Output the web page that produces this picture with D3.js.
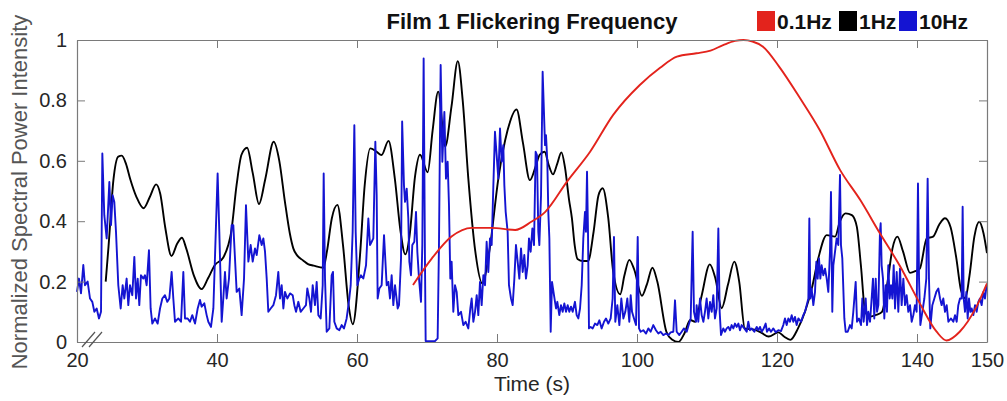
<!DOCTYPE html>
<html><head><meta charset="utf-8">
<script src="https://cdn.jsdelivr.net/npm/d3@7"></script>
<style>body{margin:0;background:#fff} svg{display:block}</style>
</head><body><svg id="chart" width="1007" height="401"></svg>
<script>
const titleText = "Film 1 Flickering Frequency";
const xLabel = "Time (s)";
const yLabel = "Normalized Spectral Power Intensity";
const xTicks = [20, 40, 60, 80, 100, 120, 140, 150];
const yTicks = [0, 0.2, 0.4, 0.6, 0.8, 1];
const yTickLabels = ["0", "0.2", "0.4", "0.6", "0.8", "1"];
const legendLabels = ["0.1Hz", "1Hz", "10Hz"];
const seriesColors = ["#e3231c", "#000000", "#1414d2"];

// 0.1 Hz component [time, value]
const hz01 = [[68.0,0.189],[70.7,0.277],[73.5,0.349],[76.4,0.378],[79.2,0.378],[82.6,0.371],[84.9,0.398],[86.9,0.431],[90.0,0.531],[93.3,0.63],[96.6,0.752],[100.4,0.851],[103.3,0.908],[105.7,0.945],[108.5,0.956],[110.5,0.965],[112.3,0.983],[114.0,0.997],[115.2,1.0],[116.5,0.995],[118.0,0.978],[120.3,0.912],[123.3,0.807],[126.1,0.702],[129.0,0.57],[131.9,0.47],[134.7,0.36],[137.6,0.25],[140.4,0.128],[142.8,0.034],[144.2,0.005],[146.1,0.034],[148.5,0.117],[150.0,0.194]];

// 1 Hz component
const hz1 = [[24.1,0.2],[24.5,0.315],[25.2,0.536],[25.9,0.614],[26.4,0.617],[27.0,0.59],[27.6,0.54],[28.5,0.48],[29.5,0.443],[30.4,0.48],[31.3,0.522],[31.9,0.49],[32.6,0.38],[33.5,0.285],[34.3,0.325],[35.0,0.345],[35.6,0.31],[36.7,0.22],[37.8,0.175],[38.7,0.21],[39.7,0.255],[40.9,0.28],[41.6,0.32],[42.0,0.36],[42.8,0.52],[43.5,0.62],[44.3,0.643],[45.1,0.56],[46.0,0.457],[46.9,0.54],[48.1,0.663],[48.9,0.6],[49.7,0.465],[50.4,0.36],[50.9,0.31],[51.5,0.285],[52.3,0.27],[53.0,0.258],[53.8,0.253],[55.2,0.246],[55.7,0.299],[56.4,0.409],[57.2,0.454],[58.0,0.321],[58.8,0.122],[59.4,0.059],[60.4,0.277],[61.1,0.519],[61.9,0.641],[62.8,0.63],[63.5,0.619],[64.5,0.666],[65.4,0.542],[66.2,0.37],[66.9,0.29],[67.5,0.35],[68.3,0.55],[69.0,0.62],[70.1,0.562],[70.8,0.70],[71.6,0.829],[72.6,0.647],[73.5,0.78],[74.4,0.93],[75.1,0.8],[75.9,0.542],[76.9,0.30],[77.9,0.194],[78.9,0.3],[80.2,0.542],[81.5,0.70],[82.8,0.77],[83.7,0.66],[84.7,0.536],[85.5,0.58],[86.1,0.62],[86.8,0.63],[87.4,0.585],[88.0,0.555],[88.6,0.59],[89.2,0.628],[89.7,0.58],[90.3,0.47],[90.7,0.41],[91.1,0.32],[91.5,0.275],[92.3,0.268],[93.0,0.268],[93.8,0.365],[94.5,0.486],[95.1,0.509],[95.9,0.409],[96.6,0.233],[97.6,0.158],[98.2,0.22],[98.9,0.272],[99.6,0.24],[100.7,0.153],[101.4,0.19],[102.2,0.246],[102.9,0.2],[104.2,0.034],[105.0,0.008],[105.9,0.0],[106.8,0.03],[107.6,0.073],[108.3,0.067],[109.2,0.15],[110.4,0.257],[111.2,0.21],[112.1,0.112],[113.0,0.19],[113.9,0.266],[114.6,0.2],[115.4,0.045],[116.9,0.04],[117.8,0.03],[118.8,0.018],[120.2,0.032],[121.0,0.018],[121.9,0.007],[123.0,0.045],[124.0,0.1],[125.0,0.18],[125.9,0.277],[127.1,0.354],[128.3,0.349],[129.0,0.4],[129.8,0.426],[130.7,0.42],[131.4,0.382],[132.0,0.25],[132.6,0.1],[133.3,0.084],[134.2,0.09],[135.0,0.1],[135.8,0.2],[136.5,0.31],[137.2,0.349],[138.0,0.3],[139.0,0.229],[139.8,0.235],[140.4,0.243],[141.4,0.343],[142.3,0.349],[143.2,0.39],[144.0,0.41],[144.8,0.38],[145.6,0.28],[146.3,0.17],[146.9,0.145],[147.5,0.22],[148.2,0.35],[148.9,0.398],[149.5,0.36],[150.0,0.294]];

// 10 Hz component
const hz10 = [[20.0,0.166],[20.28,0.21],[20.57,0.161],[20.9,0.255],[21.14,0.188],[21.52,0.2],[21.86,0.144],[22.19,0.133],[22.48,0.10],[22.81,0.111],[23.14,0.078],[23.43,0.10],[23.62,0.624],[23.9,0.42],[24.24,0.343],[24.62,0.53],[24.86,0.387],[25.09,0.486],[25.33,0.464],[25.57,0.365],[25.9,0.188],[26.24,0.111],[26.52,0.188],[26.76,0.144],[27.09,0.21],[27.33,0.122],[27.57,0.188],[27.9,0.155],[28.19,0.282],[28.43,0.144],[28.67,0.21],[28.9,0.122],[29.14,0.221],[29.48,0.21],[29.71,0.221],[29.95,0.188],[30.28,0.304],[30.52,0.111],[30.76,0.061],[31.14,0.078],[31.52,0.061],[31.86,0.111],[32.19,0.144],[32.57,0.155],[32.9,0.133],[33.19,0.144],[33.52,0.232],[33.76,0.144],[34.0,0.067],[34.47,0.078],[34.86,0.067],[35.19,0.232],[35.43,0.078],[35.81,0.078],[36.14,0.067],[36.47,0.089],[36.86,0.061],[37.24,0.111],[37.57,0.139],[37.81,0.117],[38.19,0.128],[38.52,0.089],[38.76,0.067],[39.14,0.05],[39.48,0.111],[40.09,0.558],[40.33,0.365],[40.67,0.067],[40.9,0.144],[41.14,0.232],[41.38,0.144],[41.71,0.21],[42.09,0.387],
[42.33,0.387],[42.81,0.166],[43.19,0.177],[43.52,0.089],[43.86,0.21],[44.14,0.453],[44.48,0.266],[44.81,0.321],[45.1,0.266],[45.43,0.31],[45.67,0.288],[46.05,0.354],[46.38,0.321],[46.62,0.343],[46.86,0.299],[47.1,0.21],[47.33,0.1],[47.67,0.111],[48.05,0.122],[48.43,0.155],[48.76,0.232],[49.0,0.144],[49.24,0.188],[49.48,0.111],[49.71,0.166],[50.05,0.144],[50.43,0.161],[50.81,0.155],[51.05,0.122],[51.29,0.1],[51.62,0.133],[51.95,0.1],[52.33,0.111],[52.71,0.122],[52.9,0.177],[53.19,0.144],[53.43,0.1],[53.67,0.188],[54.0,0.122],[54.24,0.199],[54.48,0.089],[54.81,0.078],[55.1,0.188],[55.24,0.558],[55.43,0.21],[55.67,0.034],[56.05,0.045],[56.38,0.221],[56.57,0.232],[56.76,0.067],[57.1,0.045],[57.48,0.039],[57.81,0.056],[58.14,0.045],[58.52,0.078],[58.9,0.144],[59.1,0.188],[59.38,0.365],[59.62,0.718],[59.81,0.365],[60.05,0.188],[60.33,0.21],[60.57,0.221],[60.9,0.21],[61.29,0.254],[61.62,0.409],[61.86,0.321],[62.1,0.332],[62.33,0.343],[62.62,0.663],[62.81,0.486],[62.95,0.144],[63.19,0.177],[63.52,0.188],[63.86,0.354],
[64.24,0.188],[64.48,0.199],[64.71,0.144],[64.95,0.221],[65.19,0.122],[65.43,0.188],[65.81,0.111],[66.0,0.122],[66.29,0.277],[66.45,0.73],[66.71,0.519],[66.86,0.464],[67.1,0.508],[67.33,0.409],[67.48,0.266],[67.71,0.221],[67.9,0.321],[68.19,0.332],[68.43,0.431],[68.62,0.299],[68.86,0.21],[69.14,0.133],[69.33,0.321],[69.52,0.939],[69.71,0.266],[69.81,0.003],[70.19,0.003],[70.67,0.003],[71.14,0.003],[71.52,0.012],[71.71,0.321],[71.95,0.917],[72.19,0.597],[72.48,0.762],[72.71,0.541],[72.95,0.597],[73.14,0.453],[73.33,0.21],[73.52,0.266],[73.76,0.1],[74.0,0.188],[74.24,0.166],[74.48,0.089],[74.86,0.1],[75.19,0.056],[75.52,0.067],[75.9,0.045],[76.19,0.111],[76.38,0.144],[76.62,0.067],[76.86,0.1],[77.1,0.155],[77.33,0.089],[77.57,0.199],[77.81,0.122],[78.05,0.221],[78.29,0.188],[78.52,0.332],[78.76,0.232],[79.0,0.343],[79.24,0.321],[79.48,0.519],[79.71,0.696],[79.95,0.619],[80.19,0.541],[80.43,0.707],[80.67,0.597],[80.9,0.652],[81.05,0.519],[81.24,0.431],[81.52,0.365],[81.71,0.188],[82.0,0.144],[82.24,0.122],[82.48,0.21],[82.71,0.321],[82.95,0.266],[83.19,0.21],[83.43,0.31],[83.67,0.232],[83.9,0.288],[84.14,0.21],[84.38,0.254],[84.57,0.343],[84.81,0.299],[85.05,0.376],[85.29,0.321],[85.52,0.63],[85.71,0.619],[85.9,0.365],[86.05,0.321],[86.29,0.486],[86.52,0.895],
[86.86,0.652],[87.0,0.685],[87.19,0.597],[87.33,0.431],[87.48,0.343],[87.67,0.034],[87.86,0.199],[88.14,0.155],[88.43,0.111],[88.62,0.133],[88.9,0.089],[89.14,0.122],[89.38,0.1],[89.62,0.128],[89.86,0.1],[90.1,0.122],[90.33,0.1],[90.57,0.117],[90.81,0.1],[91.14,0.133],[91.38,0.089],[91.62,0.078],[91.86,0.111],[92.1,0.188],[92.33,0.343],[92.57,0.431],[92.71,0.365],[92.86,0.564],[93.0,0.365],[93.14,0.045],[93.38,0.05],[93.67,0.045],[94.0,0.061],[94.33,0.056],[94.62,0.072],[94.95,0.045],[95.29,0.067],[95.57,0.078],[95.9,0.061],[96.24,0.078],[96.52,0.144],[96.71,0.348],[96.9,0.067],[97.19,0.122],[97.48,0.056],[97.76,0.144],[98.05,0.078],[98.33,0.1],[98.62,0.144],[98.9,0.067],[99.1,0.155],[99.29,0.1],[99.57,0.078],[99.86,0.056],[100.1,0.348],[100.29,0.045],[100.52,0.034],[100.9,0.039],[101.29,0.028],[101.62,0.045],[101.95,0.034],[102.33,0.056],[102.71,0.039],[103.05,0.028],[103.38,0.034],[103.76,0.023],[104.14,0.028],[104.48,0.023],[104.81,0.032],[105.19,0.034],[105.43,0.138],[105.67,0.034],[106.05,0.023],[106.38,0.034],[106.71,0.045],[107.1,0.034],[107.38,0.056],[107.67,0.078],[107.95,0.365],[108.14,0.1],[108.43,0.067],
[108.52,0.122],[108.76,0.067],[109.0,0.144],[109.24,0.089],[109.48,0.067],[109.71,0.1],[109.95,0.144],[110.19,0.078],[110.43,0.133],[110.67,0.1],[110.9,0.155],[111.14,0.078],[111.38,0.111],[111.62,0.376],[111.81,0.1],[112.0,0.023],[112.33,0.045],[112.57,0.034],[112.81,0.045],[113.05,0.05],[113.29,0.039],[113.52,0.056],[113.76,0.045],[114.0,0.061],[114.24,0.05],[114.48,0.061],[114.71,0.039],[114.95,0.056],[115.33,0.045],[115.67,0.034],[115.9,0.067],[116.14,0.039],[116.38,0.045],[116.76,0.034],[117.1,0.05],[117.33,0.039],[117.57,0.05],[117.81,0.034],[118.1,0.045],[118.38,0.061],[118.57,0.034],[118.86,0.045],[119.14,0.034],[119.48,0.045],[119.81,0.032],[120.19,0.039],[120.57,0.036],[120.9,0.056],[121.14,0.078],[121.38,0.056],[121.62,0.078],[121.86,0.067],[122.1,0.089],[122.33,0.067],[122.57,0.083],[122.81,0.056],[123.05,0.078],[123.43,0.067],[123.76,0.089],[124.0,0.1],[124.24,0.122],[124.48,0.144],[124.62,0.409],[124.76,0.144],[124.95,0.177],[125.19,0.122],[125.43,0.166],[125.62,0.266],[125.81,0.21],[126.0,0.277],[126.19,0.21],[126.38,0.254],[126.62,0.221],[126.86,0.243],[127.1,0.21],[127.33,0.166],[127.57,0.299],[127.71,0.497],[127.9,0.1],[128.05,0.254],[128.29,0.299],[128.52,0.343],[128.76,0.321],[129.0,0.553],[129.14,0.321],[129.33,0.277],[129.62,0.078],[129.81,0.034],[130.1,0.034],[130.43,0.056],[130.67,0.045],
[130.9,0.1],[131.24,0.199],[131.43,0.067],[131.71,0.078],[132.0,0.056],[132.19,0.144],[132.38,0.067],[132.67,0.144],[132.86,0.056],[133.05,0.1],[133.29,0.067],[133.52,0.144],[133.71,0.21],[133.9,0.078],[134.1,0.21],[134.29,0.1],[134.48,0.122],[134.71,0.365],[134.81,0.393],[134.95,0.254],[135.14,0.21],[135.33,0.078],[135.52,0.188],[135.71,0.1],[135.9,0.254],[136.1,0.144],[136.29,0.188],[136.48,0.144],[136.67,0.254],[136.86,0.111],[137.1,0.232],[137.33,0.1],[137.57,0.243],[137.81,0.122],[138.05,0.21],[138.29,0.122],[138.52,0.155],[138.76,0.1],[139.0,0.122],[139.24,0.067],[139.48,0.089],[139.71,0.122],[139.95,0.1],[140.14,0.525],[140.29,0.21],[140.48,0.056],[140.76,0.1],[141.05,0.144],[141.33,0.21],[141.52,0.541],[141.71,0.21],[141.9,0.045],[142.19,0.122],[142.48,0.144],[142.76,0.166],[143.05,0.177],[143.29,0.144],[143.52,0.122],[143.76,0.144],[144.0,0.1],[144.24,0.122],[144.48,0.067],[144.86,0.078],[145.19,0.067],[145.43,0.089],[145.67,0.067],[145.9,0.122],[146.14,0.144],[146.38,0.144],[146.52,0.448],[146.67,0.144],[146.86,0.1],[147.05,0.166],[147.24,0.078],[147.43,0.144],[147.62,0.1],[147.81,0.111],[148.05,0.089],[148.29,0.122],[148.52,0.1],[148.76,0.133],[149.0,0.144],[149.24,0.122],[149.48,0.166],[149.71,0.144],[149.95,0.188]];

const svg = d3.select("#chart");
const x = d3.scaleLinear().domain([20, 150]).range([77, 987]);
const y = d3.scaleLinear().domain([0, 1]).range([342, 40]);
const frameColor = "#7a7a7a";
const font = "'Liberation Sans', Arial, Helvetica, sans-serif";

// lines
const smooth = d3.line().x(d => x(d[0])).y(d => y(d[1])).curve(d3.curveMonotoneX);
const linear = d3.line().x(d => x(d[0])).y(d => y(d[1]));

svg.append("path").datum(hz1).attr("d", smooth).attr("fill", "none")
  .attr("stroke", seriesColors[1]).attr("stroke-width", 1.9).attr("stroke-linejoin", "round");
svg.append("path").datum(hz10).attr("d", linear).attr("fill", "none")
  .attr("stroke", seriesColors[2]).attr("stroke-width", 1.9).attr("stroke-linejoin", "round");
svg.append("path").datum(hz01).attr("d", smooth).attr("fill", "none")
  .attr("stroke", seriesColors[0]).attr("stroke-width", 1.9);

// axes (inward ticks, box)
function styleAxis(g) {
  g.selectAll("path.domain").attr("stroke", frameColor).attr("stroke-width", 1.2);
  g.selectAll(".tick line").attr("stroke", frameColor);
  g.selectAll(".tick text").attr("fill", "#262626").style("font-family", font).style("font-size", "20px");
}
svg.append("g").attr("transform", `translate(0,${y(0)})`)
  .call(d3.axisBottom(x).tickValues(xTicks).tickSize(-8).tickSizeOuter(0).tickPadding(11))
  .call(styleAxis);
svg.append("g").attr("transform", `translate(0,${y(1)})`)
  .call(d3.axisTop(x).tickValues(xTicks).tickSize(-8).tickSizeOuter(0).tickFormat(""))
  .call(styleAxis);
svg.append("g").attr("transform", `translate(${x(20)},0)`)
  .call(d3.axisLeft(y).tickValues(yTicks).tickSize(-8).tickSizeOuter(0).tickPadding(10)
    .tickFormat((d, i) => yTickLabels[i]))
  .call(styleAxis);
svg.append("g").attr("transform", `translate(${x(150)},0)`)
  .call(d3.axisRight(y).tickValues(yTicks).tickSize(-8).tickSizeOuter(0).tickFormat(""))
  .call(styleAxis);

// axis break marks
const brk = svg.append("g").attr("stroke", "#555").attr("stroke-width", 1.2);
[[82, 95], [89, 102]].forEach(([a, b]) => {
  brk.append("line").attr("x1", a).attr("y1", 347).attr("x2", b).attr("y2", 332);
});

// labels
svg.append("text").attr("x", 532).attr("y", 391).attr("text-anchor", "middle")
  .style("font-family", font).style("font-size", "21px").attr("fill", "#262626").text(xLabel);
svg.append("text").attr("transform", "translate(27,192) rotate(-90)").attr("text-anchor", "middle")
  .style("font-family", font).style("font-size", "22px").attr("fill", "#555").text(yLabel);
svg.append("text").attr("x", 532).attr("y", 29).attr("text-anchor", "middle")
  .style("font-family", font).style("font-size", "22px").style("font-weight", "bold")
  .attr("fill", "#111").text(titleText);

// legend
const legendX = [757, 839, 899];
legendLabels.forEach((lab, i) => {
  svg.append("rect").attr("x", legendX[i]).attr("y", 11).attr("width", 18).attr("height", 20)
    .attr("fill", seriesColors[i]);
  svg.append("text").attr("x", legendX[i] + 20).attr("y", 29)
    .style("font-family", font).style("font-size", "21px").style("font-weight", "bold")
    .attr("fill", "#111").text(lab);
});
</script></body></html>
